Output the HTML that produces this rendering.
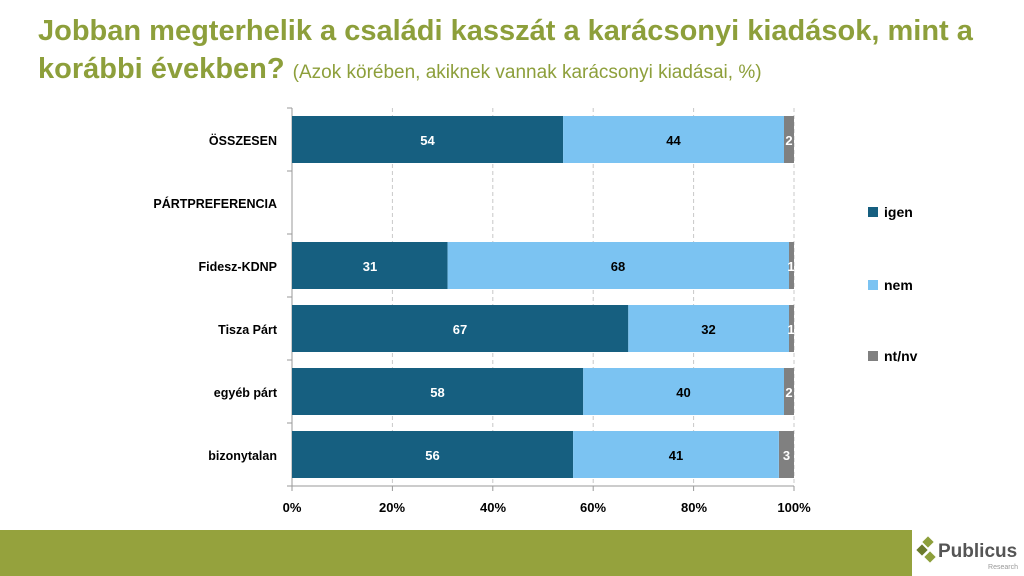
<!DOCTYPE html>
<html><head><meta charset="utf-8"><style>
body{margin:0;width:1024px;height:576px;background:#fff;position:relative;overflow:hidden;font-family:"Liberation Sans",sans-serif}
.t{position:absolute;left:38px;top:12px;color:#8d9f3b;font-weight:bold;font-size:29px;line-height:38px;width:980px}
.t span{font-weight:normal;font-size:19px}
</style></head><body>
<div class="t">Jobban megterhelik a családi kasszát a karácsonyi kiadások, mint a korábbi években? <span>(Azok körében, akiknek vannak karácsonyi kiadásai, %)</span></div>
<svg width="1024" height="576" style="position:absolute;left:0;top:0" font-family="Liberation Sans,sans-serif">
<g stroke="#c8c8c8" stroke-dasharray="4,3">
<line x1="392.4" y1="108" x2="392.4" y2="486"/><line x1="492.8" y1="108" x2="492.8" y2="486"/><line x1="593.2" y1="108" x2="593.2" y2="486"/><line x1="693.6" y1="108" x2="693.6" y2="486"/><line x1="794" y1="108" x2="794" y2="486"/>
</g>
<line x1="292" y1="108" x2="292" y2="486" stroke="#999"/>
<line x1="292" y1="486" x2="794" y2="486" stroke="#999"/>
<g stroke="#999"><line x1="287" y1="108" x2="292" y2="108"/><line x1="287" y1="171" x2="292" y2="171"/><line x1="287" y1="234" x2="292" y2="234"/><line x1="287" y1="297" x2="292" y2="297"/><line x1="287" y1="360" x2="292" y2="360"/><line x1="287" y1="423" x2="292" y2="423"/><line x1="287" y1="486" x2="292" y2="486"/>
<line x1="292" y1="486" x2="292" y2="491"/><line x1="392.4" y1="486" x2="392.4" y2="491"/><line x1="492.8" y1="486" x2="492.8" y2="491"/><line x1="593.2" y1="486" x2="593.2" y2="491"/><line x1="693.6" y1="486" x2="693.6" y2="491"/><line x1="794" y1="486" x2="794" y2="491"/></g>
<g font-size="12.5" font-weight="bold" fill="#000" text-anchor="end">
<text x="277" y="145">ÖSSZESEN</text><text x="277" y="208">PÁRTPREFERENCIA</text><text x="277" y="271">Fidesz-KDNP</text><text x="277" y="334">Tisza Párt</text><text x="277" y="397">egyéb párt</text><text x="277" y="460">bizonytalan</text>
</g>
<g font-size="13" font-weight="bold" text-anchor="middle" fill="#000">
<text x="292" y="512">0%</text><text x="392" y="512">20%</text><text x="493" y="512">40%</text><text x="593" y="512">60%</text><text x="694" y="512">80%</text><text x="794" y="512">100%</text>
</g>
<g id="bars" font-size="13" font-weight="bold" text-anchor="middle">
<rect x="292" y="116" width="271.1" height="47" fill="#165f80"/><rect x="563.1" y="116" width="220.9" height="47" fill="#7bc3f2"/><rect x="784" y="116" width="10" height="47" fill="#808080"/>
<text x="427.5" y="145" fill="#fff">54</text><text x="673.5" y="145" fill="#000">44</text><text x="789" y="145" fill="#fff">2</text>
<rect x="292" y="242" width="155.6" height="47" fill="#165f80"/><rect x="447.6" y="242" width="341.4" height="47" fill="#7bc3f2"/><rect x="789" y="242" width="5" height="47" fill="#808080"/>
<text x="370" y="271" fill="#fff">31</text><text x="618" y="271" fill="#000">68</text><text x="791" y="271" fill="#fff">1</text>
<rect x="292" y="305" width="336.3" height="47" fill="#165f80"/><rect x="628.3" y="305" width="160.7" height="47" fill="#7bc3f2"/><rect x="789" y="305" width="5" height="47" fill="#808080"/>
<text x="460" y="334" fill="#fff">67</text><text x="708.5" y="334" fill="#000">32</text><text x="791" y="334" fill="#fff">1</text>
<rect x="292" y="368" width="291.2" height="47" fill="#165f80"/><rect x="583.2" y="368" width="200.8" height="47" fill="#7bc3f2"/><rect x="784" y="368" width="10" height="47" fill="#808080"/>
<text x="437.5" y="397" fill="#fff">58</text><text x="683.5" y="397" fill="#000">40</text><text x="789" y="397" fill="#fff">2</text>
<rect x="292" y="431" width="281.1" height="47" fill="#165f80"/><rect x="573.1" y="431" width="205.8" height="47" fill="#7bc3f2"/><rect x="779" y="431" width="15" height="47" fill="#808080"/>
<text x="432.5" y="460" fill="#fff">56</text><text x="676" y="460" fill="#000">41</text><text x="786.5" y="460" fill="#fff">3</text>
</g>
<g font-size="14" font-weight="bold" fill="#000">
<rect x="868" y="207" width="10" height="10" fill="#165f80"/><text x="884" y="217">igen</text>
<rect x="868" y="280" width="10" height="10" fill="#7bc3f2"/><text x="884" y="290">nem</text>
<rect x="868" y="351" width="10" height="10" fill="#808080"/><text x="884" y="361">nt/nv</text>
</g>
<rect x="0" y="530" width="912" height="46" fill="#95a23d"/>
<g fill="#8d9f3b"><rect x="924" y="538" width="8" height="8" transform="rotate(45 928 542)"/><rect x="918" y="546" width="8" height="8" transform="rotate(45 922 550)" fill="#6b7a2c"/><rect x="926" y="553" width="8" height="8" transform="rotate(45 930 557)"/></g>
<text x="938" y="557" font-size="19" font-weight="bold" fill="#555">Publicus</text>
<text x="1018" y="569" font-size="7" fill="#999" text-anchor="end">Research</text>
</svg>
</body></html>
